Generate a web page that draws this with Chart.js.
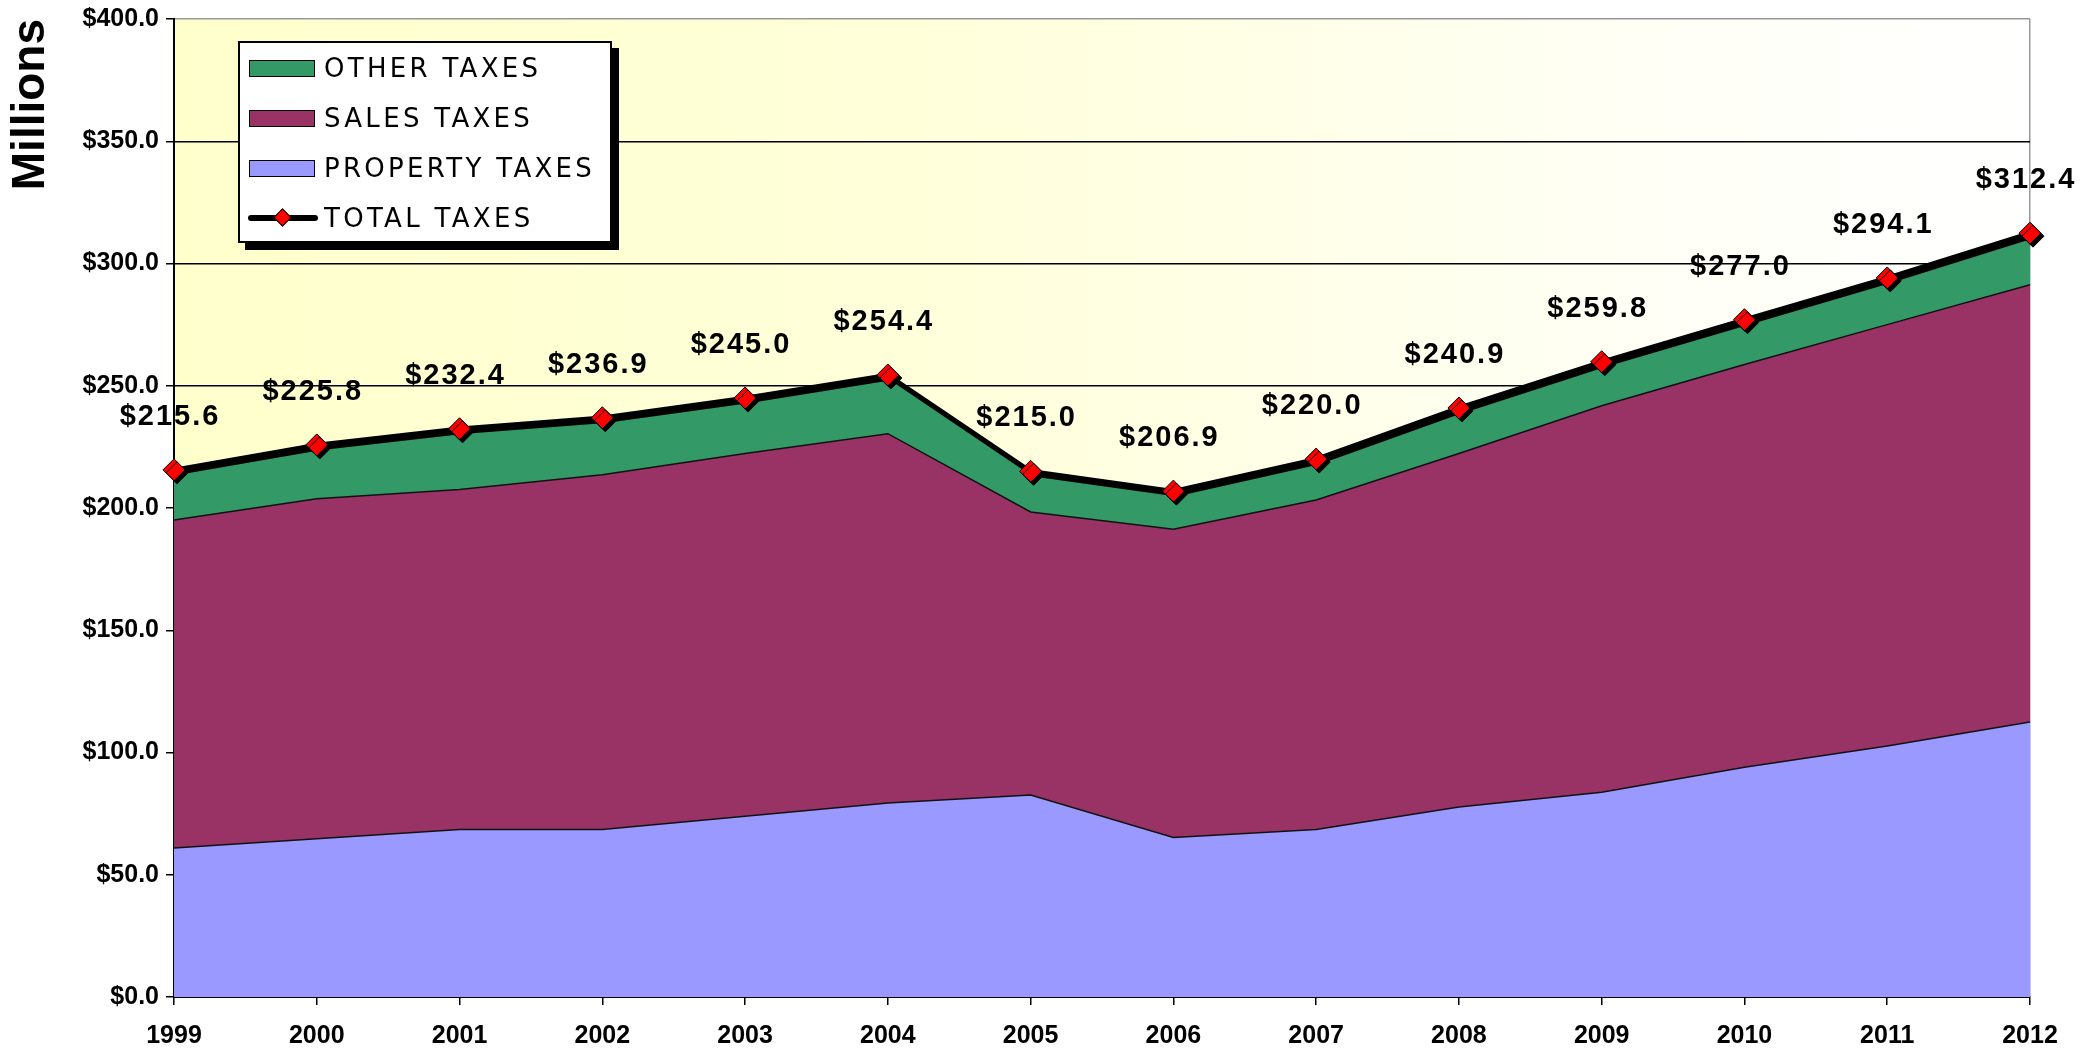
<!DOCTYPE html>
<html>
<head>
<meta charset="utf-8">
<script src="https://cdn.jsdelivr.net/npm/chart.js@4.4.0/dist/chart.umd.min.js"></script>
<style>
  html, body { margin: 0; padding: 0; background: #fff; }
  #wrap { position: relative; width: 2085px; height: 1052px; }
  #legend {
    position: absolute; left: 238px; top: 41px; width: 374px; height: 202px;
    box-sizing: border-box; border: 2px solid #000; background: #fff;
    box-shadow: 7px 7px 0 #000;
    font-family: 'DejaVu Sans', 'Noto Sans', sans-serif; font-size: 26px; letter-spacing: 3.3px; color: #000;
  }
  .lg-row { position: relative; height: 50px; }
  .lg-sw { position: absolute; left: 9px; top: 17px; width: 64px; height: 15px; border: 1.5px solid #000; }
  .lg-line { position: absolute; left: 8px; top: 22px; width: 70px; height: 6px; background: #000; border-radius: 3px; }
  .lg-dia { position: absolute; left: 36px; top: 18px; width: 11px; height: 11px; background: #f00; border: 1px solid #000; transform: rotate(45deg); }
  .lg-txt { position: absolute; left: 84px; top: 0; line-height: 50px; white-space: nowrap; }
</style>
</head>
<body>
<div id="wrap">
  <canvas id="chart" width="2085" height="1052"></canvas>
  <div id="legend"></div>
</div>
<script>
/* ── data (millions of dollars) ── */
const YEARS    = ['1999', '2000', '2001', '2002', '2003', '2004', '2005', '2006', '2007', '2008', '2009', '2010', '2011', '2012'];
const PROPERTY = [60.9, 64.7, 68.5, 68.5, 73.9, 79.3, 82.6, 65.2, 68.5, 77.7, 83.7, 94.0, 102.7, 112.5];
const SALES    = [134.2, 139.1, 139.1, 145.1, 148.4, 151.1, 115.8, 126.1, 134.8, 144.6, 158.1, 164.7, 172.3, 178.8];
const OTHER    = [20.5, 22.0, 24.8, 23.3, 22.7, 24.0, 16.6, 15.6, 16.7, 18.6, 18.0, 18.3, 19.1, 21.1];
const TOTAL    = [215.6, 225.8, 232.4, 236.9, 245.0, 254.4, 215.0, 206.9, 220.0, 240.9, 259.8, 277.0, 294.1, 312.4];
const Y_TICKS  = [0, 50, 100, 150, 200, 250, 300, 350, 400];

const COLORS = { property: '#9999FF', sales: '#993366', other: '#339966', total: '#000000', marker: '#FF0000' };
const LABELS = { property: 'PROPERTY TAXES', sales: 'SALES TAXES', other: 'OTHER TAXES', total: 'TOTAL TAXES' };

const AXIS_FONT = "'Liberation Sans', Arial, sans-serif";

// Plot background: yellow on the left fading to white on the right
const bgPlugin = {
  id: 'plotBg',
  beforeDraw(chart) {
    const { ctx, chartArea: a } = chart;
    const g = ctx.createLinearGradient(a.left, 0, a.right, 0);
    g.addColorStop(0, '#FFFFCC');
    g.addColorStop(0.4, '#FFFFDA');
    g.addColorStop(0.8, '#FFFFF6');
    g.addColorStop(1, '#FFFFFF');
    ctx.save();
    ctx.fillStyle = g;
    ctx.fillRect(a.left, a.top, a.right - a.left, a.bottom - a.top);
    ctx.restore();
  }
};

// Drop shadow on the total line + markers
const shadowPlugin = {
  id: 'totalShadow',
  beforeDatasetDraw(chart, args) {
    if (args.index !== 0) return;
    const ctx = chart.ctx;
    ctx.save();
    ctx.shadowColor = '#000';
    ctx.shadowBlur = 0;
    ctx.shadowOffsetX = 3;
    ctx.shadowOffsetY = 3;
  },
  afterDatasetDraw(chart, args) {
    if (args.index === 0) chart.ctx.restore();
  }
};

// "$xxx.x" labels above the total markers
const labelPlugin = {
  id: 'totalLabels',
  afterDatasetsDraw(chart) {
    const ctx = chart.ctx;
    const meta = chart.getDatasetMeta(0);
    ctx.save();
    ctx.font = "bold 29px 'Liberation Sans', Arial, sans-serif";
    if ('letterSpacing' in ctx) ctx.letterSpacing = '2px';
    ctx.fillStyle = '#000';
    ctx.textAlign = 'center';
    ctx.textBaseline = 'middle';
    meta.data.forEach((pt, i) => {
      ctx.fillText('$' + TOTAL[i].toFixed(1), pt.x - 4, pt.y - 53);
    });
    ctx.restore();
  }
};

// stacking follows `order` (property at the bottom); the total line has its own stack
new Chart(document.getElementById('chart'), {
  type: 'line',
  data: {
    labels: YEARS,
    datasets: [
      {
        label: LABELS.total, data: TOTAL, stack: 'total', order: 0, clip: false,
        borderColor: COLORS.total, borderWidth: 4.5, fill: false, tension: 0,
        pointStyle: 'rectRot', pointRadius: 11, pointHoverRadius: 11,
        pointBackgroundColor: COLORS.marker, pointBorderColor: '#000', pointBorderWidth: 1
      },
      {
        label: LABELS.property, data: PROPERTY, stack: 'taxes', order: 1,
        backgroundColor: COLORS.property, borderColor: '#111', borderWidth: 1.5,
        fill: 'origin', pointRadius: 0, tension: 0
      },
      {
        label: LABELS.sales, data: SALES, stack: 'taxes', order: 2,
        backgroundColor: COLORS.sales, borderColor: '#111', borderWidth: 1.5,
        fill: '-1', pointRadius: 0, tension: 0
      },
      {
        label: LABELS.other, data: OTHER, stack: 'taxes', order: 3,
        backgroundColor: COLORS.other, borderColor: '#111', borderWidth: 1.5,
        fill: '-1', pointRadius: 0, tension: 0
      }
    ]
  },
  options: {
    responsive: false, animation: false, devicePixelRatio: 1,
    layout: { padding: { left: 0, right: 55, top: 19, bottom: 0 } },
    plugins: { legend: { display: false }, tooltip: { enabled: false } },
    scales: {
      x: {
        offset: false,
        afterFit: s => { s.height = 55; },
        border: { color: '#000', width: 2 },
        grid: {
          drawOnChartArea: true, tickLength: 8, tickColor: '#000', lineWidth: 1.5,
          color: c => c.index === YEARS.length - 1 ? '#999' : 'rgba(0,0,0,0)'
        },
        ticks: { color: '#000', padding: 16, maxRotation: 0, autoSkip: false, font: { family: AXIS_FONT, weight: 'bold', size: 25 } }
      },
      y: {
        stacked: true, min: Y_TICKS[0], max: Y_TICKS[Y_TICKS.length - 1],
        afterFit: s => { s.width = 174; s.paddingTop = 0; s.paddingBottom = 0; },
        afterBuildTicks: s => { s.ticks = Y_TICKS.map(v => ({ value: v })); },
        border: { color: '#000', width: 2 },
        grid: {
          tickLength: 8, tickColor: '#000', lineWidth: 1.5,
          color: c => c.tick && c.tick.value === 400 ? '#999' : '#000'
        },
        ticks: {
          color: '#000', padding: 7,
          font: { family: AXIS_FONT, weight: 'bold', size: 25 },
          callback: v => '$' + Number(v).toFixed(1)
        },
        title: {
          display: true, text: 'Millions', align: 'end', color: '#000',
          font: { family: AXIS_FONT, weight: 'bold', size: 46 },
          padding: { top: 4, bottom: 0 }
        }
      }
    }
  },
  plugins: [bgPlugin, shadowPlugin, labelPlugin]
});

// Legend box (order as in the original: other, sales, property, total)
const LEGEND_KEYS = ['other', 'sales', 'property', 'total'];
document.getElementById('legend').innerHTML = LEGEND_KEYS.map(k => {
  const sw = k === 'total'
    ? '<span class="lg-line"></span><span class="lg-dia"></span>'
    : `<span class="lg-sw" style="background:${COLORS[k]}"></span>`;
  return `<div class="lg-row">${sw}<span class="lg-txt">${LABELS[k]}</span></div>`;
}).join('');
</script>
</body>
</html>
